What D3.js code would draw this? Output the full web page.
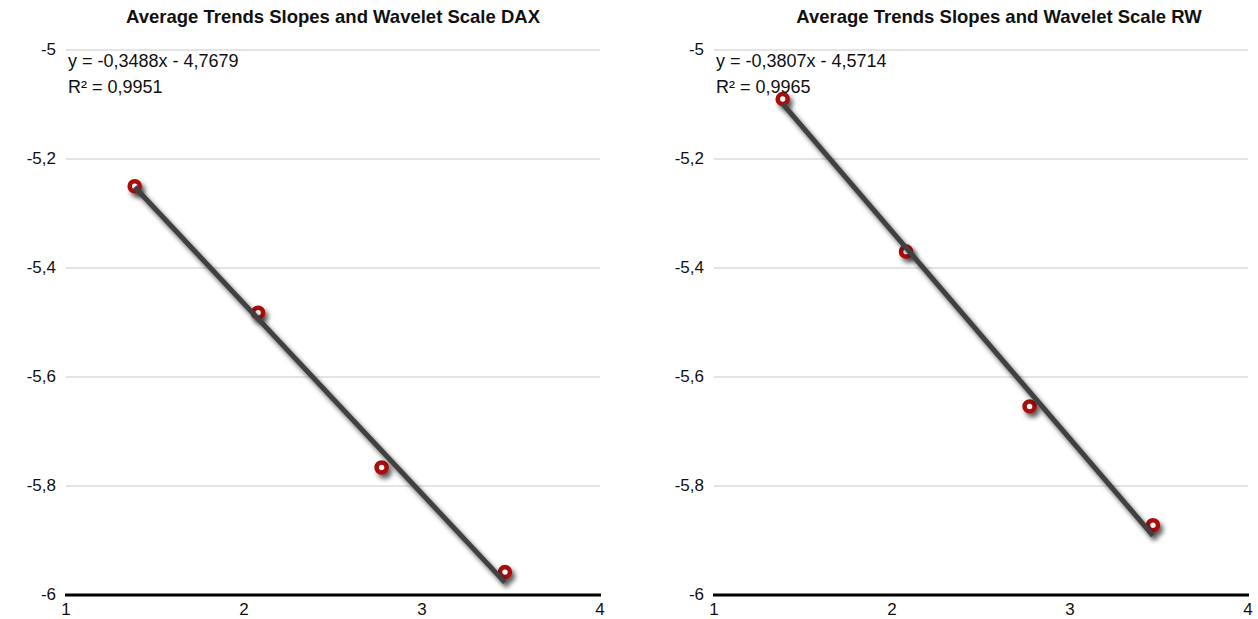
<!DOCTYPE html>
<html>
<head>
<meta charset="utf-8">
<script src="https://d3js.org/d3.v7.min.js"></script>
<style>
  html, body { margin: 0; padding: 0; background: #fff; }
  svg { display: block; font-family: "Liberation Sans", Arial, Helvetica, sans-serif; }
</style>
</head>
<body>
<svg id="chart" width="1258" height="619"></svg>
<script>
// Wavelet scale (log) on x, average trend slope on y
const scaleLog = [1.386, 2.079, 2.773, 3.466];
const slopesDax = [-5.25, -5.482, -5.766, -5.958];
const slopesRw = [-5.09, -5.37, -5.654, -5.872];

const titles = ["Average Trends Slopes and Wavelet Scale DAX", "Average Trends Slopes and Wavelet Scale RW"];
const fitSlope = [-0.3488, -0.3807];
const fitIntercept = [-4.7679, -4.5714];
const fitR2 = ["0,9951", "0,9965"];
const equationLabels = ["y = -0,3488x - 4,7679", "y = -0,3807x - 4,5714"];

const xTicks = [1, 2, 3, 4];
const yTicks = [-6, -5.8, -5.6, -5.4, -5.2, -5];

const seriesY = [slopesDax, slopesRw];

const locale = d3.formatLocale({ decimal: ",", thousands: ".", grouping: [3], currency: ["", "€"], minus: "-" });
const fmtY = v => locale.format("~g")(v);

const svg = d3.select("#chart");
const defs = svg.append("defs");

const shadow = defs.append("filter").attr("id", "shadow")
  .attr("x", "-50%").attr("y", "-50%").attr("width", "200%").attr("height", "200%");
shadow.append("feGaussianBlur").attr("in", "SourceAlpha").attr("stdDeviation", 2.4).attr("result", "blur");
shadow.append("feOffset").attr("in", "blur").attr("dx", 3).attr("dy", 4).attr("result", "off");
shadow.append("feComponentTransfer").attr("in", "off").attr("result", "soft")
  .append("feFuncA").attr("type", "linear").attr("slope", 0.65);
const merge = shadow.append("feMerge");
merge.append("feMergeNode").attr("in", "soft");
merge.append("feMergeNode").attr("in", "SourceGraphic");

const panelW = 534, panelTop = 50, panelBottom = 595;
const panelLeft = [66, 714];

titles.forEach((title, i) => {
  const x0 = panelLeft[i];
  const x = d3.scaleLinear().domain([1, 4]).range([x0, x0 + panelW]);
  const y = d3.scaleLinear().domain([-6, -5]).range([panelBottom, panelTop]);
  const g = svg.append("g");

  // title
  g.append("text")
    .attr("x", x0 + panelW / 2 + (i === 1 ? 18 : 0))
    .attr("y", 23)
    .attr("text-anchor", "middle")
    .attr("font-weight", "bold")
    .attr("font-size", 18.5)
    .attr("fill", "#111")
    .text(title);

  // horizontal gridlines
  g.selectAll("line.grid").data(yTicks.filter(t => t !== -6)).join("line")
    .attr("class", "grid")
    .attr("x1", x(1)).attr("x2", x(4))
    .attr("y1", d => y(d)).attr("y2", d => y(d))
    .attr("stroke", "#c9c9c9").attr("stroke-width", 1);

  // y tick labels
  g.selectAll("text.ytick").data(yTicks).join("text")
    .attr("class", "ytick")
    .attr("x", x0 - 10)
    .attr("y", d => y(d) + 5)
    .attr("text-anchor", "end")
    .attr("font-size", 17)
    .attr("fill", "#111")
    .text(fmtY);

  // x axis
  g.append("line")
    .attr("x1", x(1) - 1).attr("x2", x(4) + 1)
    .attr("y1", y(-6)).attr("y2", y(-6))
    .attr("stroke", "#000").attr("stroke-width", 3);

  g.selectAll("text.xtick").data(xTicks).join("text")
    .attr("class", "xtick")
    .attr("x", d => x(d))
    .attr("y", 615)
    .attr("text-anchor", "middle")
    .attr("font-size", 17)
    .attr("fill", "#111")
    .text(d => d);

  // data markers
  const pts = scaleLog.map((v, k) => [v, seriesY[i][k]]);
  const mg = g.append("g").attr("filter", "url(#shadow)");
  mg.selectAll("circle").data(pts).join("circle")
    .attr("cx", d => x(d[0])).attr("cy", d => y(d[1]))
    .attr("r", 5)
    .attr("fill", "#fff")
    .attr("stroke", "#aa0f0d").attr("stroke-width", 4.6);

  // linear trend line over the data range
  const xs = d3.extent(scaleLog);
  const fit = v => fitSlope[i] * v + fitIntercept[i];
  g.append("line")
    .attr("filter", "url(#shadow)")
    .attr("x1", x(xs[0])).attr("y1", y(fit(xs[0])))
    .attr("x2", x(xs[1])).attr("y2", y(fit(xs[1])))
    .attr("stroke", "#404040").attr("stroke-width", 5);

  // equation and R²
  g.append("text")
    .attr("x", x0 + 2).attr("y", 67)
    .attr("font-size", 18).attr("fill", "#111")
    .text(equationLabels[i]);
  g.append("text")
    .attr("x", x0 + 2).attr("y", 93)
    .attr("font-size", 18).attr("fill", "#111")
    .text("R² = " + fitR2[i]);
});
</script>
</body>
</html>
